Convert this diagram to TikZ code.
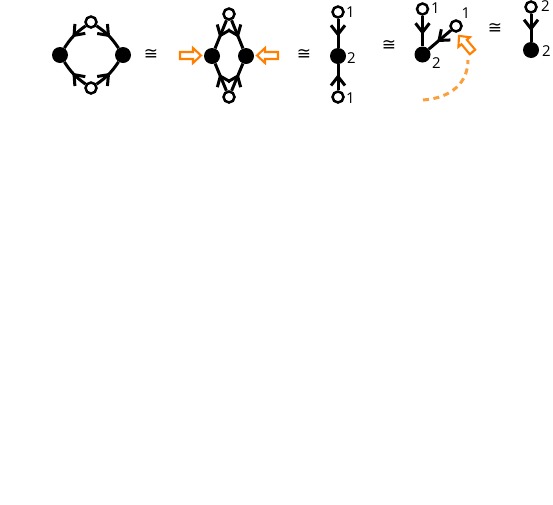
\documentclass[tikz,border=0pt]{standalone}
\usepackage{fontspec}
\setmainfont{Open Sans}
\newfontfamily\dejavu{DejaVu Sans}
\usetikzlibrary{arrows.meta,decorations.markings}
\definecolor{orA}{RGB}{255,128,0}
\definecolor{orB}{RGB}{250,160,60}
\begin{document}
\begin{tikzpicture}[x=1pt,y=-1pt,
  bl/.style={circle,fill=black,inner sep=0pt,minimum size=16pt},
  wh/.style={circle,draw=black,fill=white,line width=2.5pt,inner sep=0pt,minimum size=11pt},
  lab/.style={font=\fontsize{15}{15}\selectfont,inner sep=0pt},
  iso/.style={font=\dejavu\fontsize{17}{17}\selectfont,inner sep=0pt},
  ed/.style={line width=3pt,postaction={decorate},decoration={markings,mark=at position #1 with {\arrow{Straight Barb[length=9pt,width=14pt]}}}},
  ed/.default=0.55,
  hol/.style={draw=orA,fill=white,line width=2.1pt,line join=miter},
  dsh/.style={draw=orB,line width=3pt,dash pattern=on 6pt off 4.5pt},
]
\useasboundingbox (0,0) rectangle (553,504);
\newcommand{\holarrow}[2]{%
  \begin{scope}[shift={#1},rotate=#2]
    \draw[hol] (0,3.5) -- (13,3.5) -- (13,7.5) -- (21,0) -- (13,-7.5) -- (13,-3.5) -- (0,-3.5) -- cycle;
  \end{scope}}

% graph 1
\node[bl] (l1) at (60,55) {};
\node[bl] (r1) at (123,55) {};
\node[wh] (t1) at (91,22) {};
\node[wh] (b1) at (91,88) {};
\draw[ed=0.56] (t1) to[bend right=11] (l1);
\draw[ed=0.56] (t1) to[bend left=11] (r1);
\draw[ed=0.56] (b1) to[bend left=11] (l1);
\draw[ed=0.56] (b1) to[bend right=11] (r1);
\node[iso] (c1) at (151,54) {≅};

% graph 2
\node[bl] (l2) at (212,56) {};
\node[bl] (r2) at (246,56) {};
\node[wh] (t2) at (229,14) {};
\node[wh] (b2) at (229,97) {};
\draw[ed=0.62] (t2) -- (l2);
\draw[ed=0.62] (t2) -- (r2);
\draw[ed=0.62] (b2) -- (l2);
\draw[ed=0.62] (b2) -- (r2);
\holarrow{(180,55.5)}{0}
\holarrow{(278,55.5)}{180}
\node[iso] (c2) at (304,54) {≅};

% graph 3
\node[wh] (t3) at (338,12) {};
\node[bl] (m3) at (338,56) {};
\node[wh] (b3) at (338,97) {};
\draw[ed=0.62] (t3) -- (m3);
\draw[ed=0.62] (b3) -- (m3);
\node[lab,anchor=west] (lt3) at (346,12) {1};
\node[lab,anchor=west] (lm3) at (347,58) {2};
\node[lab,anchor=west] (lb3) at (346,98) {1};
\node[iso] (c3) at (389,45) {≅};

% graph 4
\node[wh] (t4) at (422.5,9) {};
\node[bl] (m4) at (422.5,54.5) {};
\node[wh] (s4) at (456,26) {};
\draw[ed=0.62] (t4) -- (m4);
\draw[ed=0.62] (s4) -- (m4);
\node[lab,anchor=west] (lt4) at (431,8) {1};
\node[lab] (ls4) at (466,13) {1};
\node[lab,anchor=west] (lm4) at (432,63) {2};
\coordinate (ds) at (423,100);
\coordinate (de) at (468,60);
\draw[dsh] (ds) .. controls (452,98) and (468,82) .. (de);
\holarrow{(472.5,52)}{130}
\node[iso] (c4) at (495,28) {≅};

% graph 5
\node[wh] (t5) at (531,7) {};
\node[bl] (m5) at (531,50) {};
\draw[ed=0.62] (t5) -- (m5);
\node[lab,anchor=west] (lt5) at (541,6) {2};
\node[lab,anchor=west] (lm5) at (542,51) {2};
\end{tikzpicture}
\end{document}
